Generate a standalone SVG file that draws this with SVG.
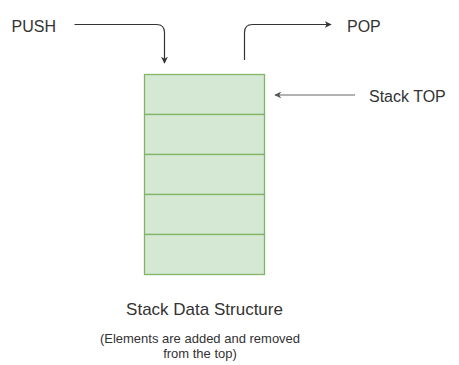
<svg xmlns="http://www.w3.org/2000/svg" width="459" height="365" viewBox="0 0 459 365">
<style>
text{font-family:"Liberation Sans",Arial,sans-serif;fill:#333}
.cell{fill:#d5e8d4;stroke:#82b366;stroke-width:1.3}
.edge{fill:none;stroke:#333;stroke-width:1.2}
</style>
<defs>
<marker id="ah" viewBox="0 0 10 10" refX="9" refY="5" markerWidth="7" markerHeight="7" markerUnits="userSpaceOnUse" orient="auto"><path d="M0,0 L10,5 L0,10 L3,5 Z" fill="#333"/></marker>
<marker id="ahg" viewBox="0 0 10 10" refX="9" refY="5" markerWidth="7" markerHeight="7" markerUnits="userSpaceOnUse" orient="auto"><path d="M0,0 L10,5 L0,10 L3,5 Z" fill="#555"/></marker>
</defs>
<g id="stack">
<rect class="cell" x="144.5" y="74.5" width="120" height="40"/>
<rect class="cell" x="144.5" y="114.5" width="120" height="40"/>
<rect class="cell" x="144.5" y="154.5" width="120" height="40"/>
<rect class="cell" x="144.5" y="194.5" width="120" height="40"/>
<rect class="cell" x="144.5" y="234.5" width="120" height="40"/>
</g>
<g id="push"><text x="11.5" y="31.5" font-size="16">PUSH</text></g>
<g id="pop"><text x="347" y="31.5" font-size="16">POP</text></g>
<g id="top"><text x="369" y="101.5" font-size="16">Stack TOP</text></g>
<g id="caption">
<text x="204.5" y="315" font-size="17" text-anchor="middle">Stack Data Structure</text>
<text x="200" y="343" font-size="13" text-anchor="middle">(Elements are added and removed</text>
<text x="200" y="357.5" font-size="13" text-anchor="middle">from the top)</text>
</g>
<g id="connectors">
<path class="edge" d="M74.5,24.5 H156.5 Q164.5,24.5 164.5,32.5 V63" marker-end="url(#ah)"/>
<path class="edge" d="M244.5,60 V32.5 Q244.5,24.5 252.5,24.5 H331" marker-end="url(#ah)"/>
<path d="M355,95 H275" fill="none" stroke="#666" stroke-width="1.2" marker-end="url(#ahg)"/>
</g>
</svg>
